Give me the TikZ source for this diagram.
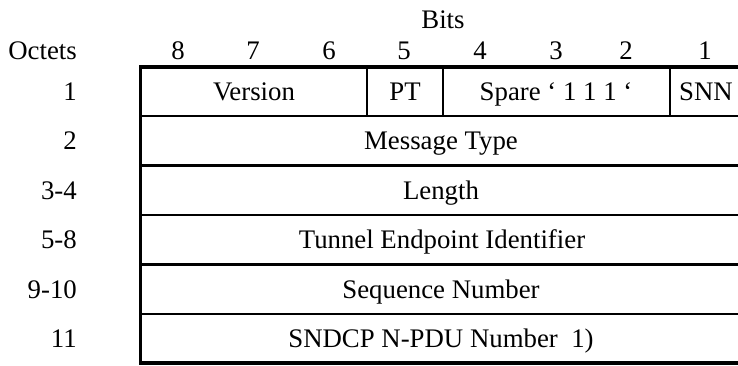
\documentclass[tikz,border=0pt]{standalone}
\usepackage{fontspec}
\setmainfont{Liberation Serif}
\begin{document}
\begin{tikzpicture}[x=1pt,y=-1pt,
  lbl/.style={anchor=base,inner sep=0pt,font=\fontsize{26.8}{32}\selectfont},
  lblr/.style={lbl,anchor=base east},
  inner/.style={line width=2.6pt},
  outer/.style={line width=3.6pt,line join=miter}]
\useasboundingbox (0,0) rectangle (738,365);
% header
\node[lbl] (bits) at (443,28.5) {Bits};
\node[lblr] (octets) at (77,59.5) {Octets};
\foreach \b/\x in {8/178,7/253,6/329,5/404,4/480,3/556,2/626,1/705}
  \node[lbl] (bit\b) at (\x,59.5) {\b};
% octet numbers
\foreach \n/\t/\y in {a/1/91.5,b/2/140.8,c/3-4/190.2,d/5-8/239.8,e/9-10/289.2,f/11/338.5}
  \node[lblr] (oct\n) at (77,\y+9) {\t};
% grid lines
\foreach \y in {116,165.5,215,264.5,314}
  \draw[inner] (140.5,\y) -- (738,\y);
\foreach \x in {367,443,670}
  \draw[inner] (\x,67) -- (\x,116);
\draw[outer] (738,67) -- (140.5,67) -- (140.5,363) -- (738,363);
% cell texts
\node[lbl] (version) at (254,100.5) {Version};
\node[lbl] (pt) at (405,100.5) {PT};
\node[lbl] (spare) at (556,100.5) {Spare ‘ 1 1 1 ‘};
\node[lbl] (snn) at (706,100.5) {SNN};
\node[lbl] (msgtype) at (441,149.8) {Message Type};
\node[lbl] (length) at (441,199.2) {Length};
\node[lbl] (teid) at (442,248.8) {Tunnel Endpoint Identifier};
\node[lbl] (seq) at (441,298.2) {Sequence Number};
\node[lbl] (npdu) at (441,347.5) {SNDCP N-PDU Number\ \ 1)};
\end{tikzpicture}
\end{document}
